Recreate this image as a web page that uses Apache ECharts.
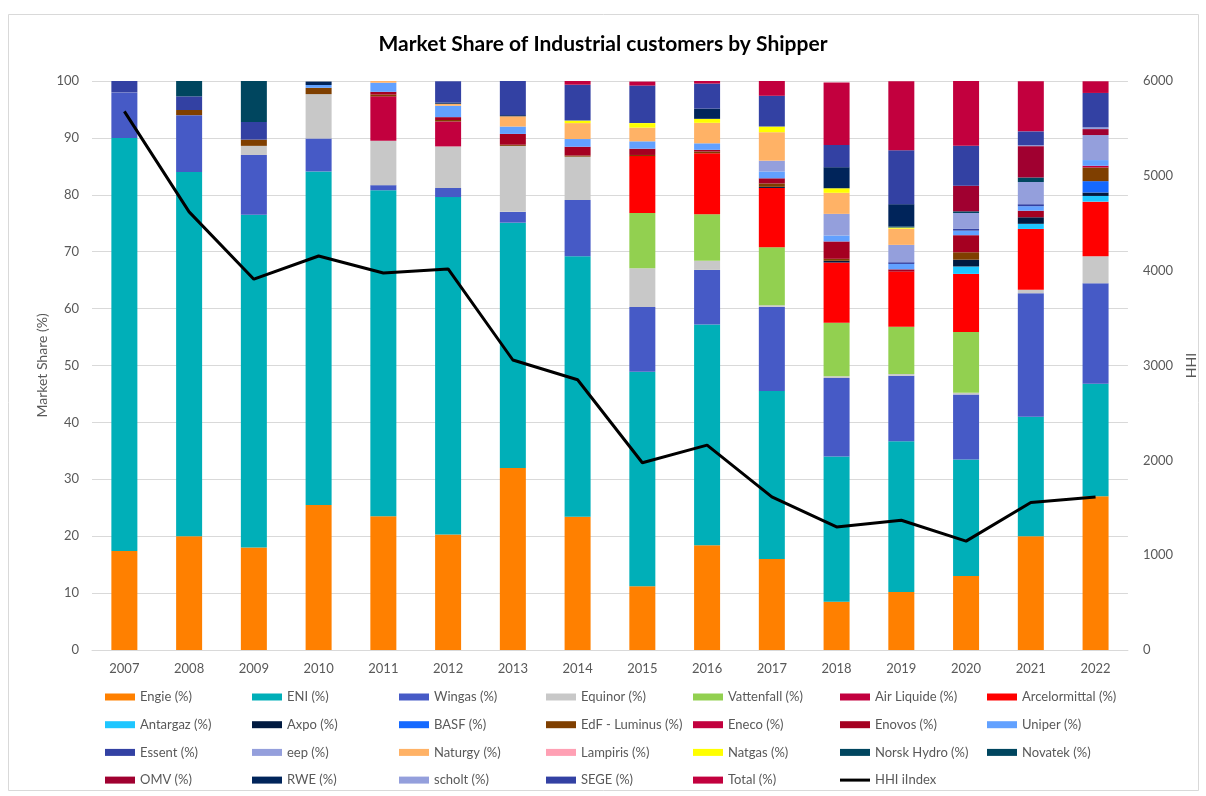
<!DOCTYPE html>
<html>
<head>
<meta charset="utf-8">
<script src="https://cdn.jsdelivr.net/npm/echarts@6/dist/echarts.min.js"></script>
<style>
  html, body { margin: 0; padding: 0; background: #fff; }
  #chart { width: 1206px; height: 796px; }
</style>
</head>
<body>
<div id="chart"></div>
<script>
// years on the x axis
const years = ["2007", "2008", "2009", "2010", "2011", "2012", "2013", "2014",
  "2015", "2016", "2017", "2018", "2019", "2020", "2021", "2022"];

// market share per shipper (%)
const engie        = [17.4, 20, 18, 25.5, 23.5, 20.3, 32, 23.4, 11.2, 18.4, 16, 8.5, 10.2, 13, 20, 27];
const eni          = [72.6, 64, 58.5, 58.6, 57.3, 59.3, 43.1, 45.8, 37.7, 38.8, 29.5, 25.5, 26.5, 20.5, 21, 19.8];
const wingas       = [8, 10, 10.5, 5.8, 0.9, 1.6, 1.9, 9.9, 11.4, 9.6, 14.8, 13.8, 11.5, 11.4, 21.7, 17.65];
const equinor      = [0, 0, 1.6, 7.8, 7.8, 7.3, 11.6, 7.6, 6.8, 1.6, 0.3, 0.3, 0.3, 0.3, 0.6, 4.75];
const vattenfall   = [0, 0, 0, 0, 0, 0, 0, 0, 9.7, 8.2, 10.2, 9.4, 8.3, 10.7, 0, 0];
const airLiquide   = [0, 0, 0, 0, 7.8, 4.4, 0, 0, 0, 0, 0, 0, 0, 0, 0, 0];
const arcelor      = [0, 0, 0, 0, 0, 0, 0, 0, 10, 10.7, 10.4, 10.6, 9.7, 10.2, 10.7, 9.6];
const antargaz     = [0, 0, 0, 0, 0, 0, 0, 0, 0, 0, 0, 0, 0, 1.3, 0.9, 1.0];
const axpo         = [0, 0, 0, 0, 0, 0, 0, 0, 0, 0, 0.2, 0.3, 0, 1.2, 1.15, 0.6];
const basf         = [0, 0, 0, 0, 0, 0, 0, 0, 0, 0, 0, 0, 0, 0, 0, 2.0];
const edf          = [0, 0.9, 1.1, 1.1, 0.3, 0.25, 0.2, 0.2, 0.2, 0.3, 0.6, 0.35, 0, 1.3, 0, 2.4];
const eneco        = [0, 0, 0, 0, 0, 0, 0, 0, 0, 0, 0, 0, 0, 0, 0, 0.3];
const enovos       = [0, 0, 0, 0, 0.5, 0.5, 1.9, 1.55, 1.1, 0.3, 0.9, 3.05, 0.4, 3.0, 1.15, 0];
const uniper       = [0, 0, 0, 0.5, 1.6, 2.0, 1.3, 1.35, 1.3, 1.15, 1.2, 1.05, 0.95, 0.8, 0.8, 1.0];
const essent       = [2, 2.4, 3.1, 0, 0, 0, 0, 0, 0, 0, 0, 0, 0.3, 0.3, 0.35, 0];
const eep          = [0, 0, 0, 0, 0, 0, 0, 0, 0, 0, 1.9, 3.8, 3.05, 2.8, 3.9, 4.4];
const naturgy      = [0, 0, 0, 0, 0.3, 0.35, 1.8, 2.8, 2.4, 3.6, 5.0, 3.7, 2.85, 0, 0, 0];
const lampiris     = [0, 0, 0, 0, 0, 0, 0, 0, 0, 0, 0, 0, 0, 0, 0, 0];
const natgas       = [0, 0, 0, 0, 0, 0, 0, 0.45, 0.8, 0.7, 1.0, 0.8, 0.2, 0, 0, 0];
const norskHydro   = [0, 2.7, 7.2, 0, 0, 0, 0, 0, 0, 0, 0, 0, 0, 0, 0, 0];
const novatek      = [0, 0, 0, 0, 0, 0, 0, 0, 0, 0, 0, 0, 0.2, 0.3, 0.8, 0];
const omv          = [0, 0, 0, 0, 0, 0, 0, 0, 0, 0, 0, 0, 0, 4.5, 5.5, 1.05];
const rwe          = [0, 0, 0, 0.6, 0, 0.2, 0.2, 0, 0, 1.8, 0, 3.7, 3.9, 0, 0, 0];
const scholt       = [0, 0, 0, 0, 0, 0, 0, 0, 0, 0, 0, 0, 0, 0, 0.15, 0.3];
const sege         = [0, 0, 0, 0, 0, 3.75, 6.0, 6.3, 6.6, 4.4, 5.4, 3.9, 9.5, 7.0, 2.45, 6.05];
const total        = [0, 0, 0, 0, 0, 0, 0, 0.7, 0.7, 0.45, 2.6, 11.0, 12.1, 11.4, 8.8, 2.05];

// HHI index (right axis)
const hhi = [5680, 4620, 3910, 4155, 3975, 4018, 3058, 2850, 1975, 2160, 1614, 1298, 1368, 1148, 1556, 1614];

const names = ["Engie (%)", "ENI (%)", "Wingas (%)", "Equinor (%)", "Vattenfall (%)", "Air Liquide (%)",
  "Arcelormittal (%)", "Antargaz (%)", "Axpo (%)", "BASF (%)", "EdF - Luminus (%)", "Eneco (%)",
  "Enovos (%)", "Uniper (%)", "Essent (%)", "eep (%)", "Naturgy (%)", "Lampiris (%)", "Natgas (%)",
  "Norsk Hydro (%)", "Novatek (%)", "OMV (%)", "RWE (%)", "scholt (%)", "SEGE (%)", "Total (%)"];
const shares = [engie, eni, wingas, equinor, vattenfall, airLiquide, arcelor, antargaz, axpo, basf,
  edf, eneco, enovos, uniper, essent, eep, naturgy, lampiris, natgas, norskHydro, novatek, omv,
  rwe, scholt, sege, total];
const hhiName = "HHI iIndex";

const colors = ["#FF8000", "#00AFB8", "#465AC6", "#C8C8C8", "#92D050", "#C2003E",
  "#FF0000", "#1EC6FF", "#001A40", "#1569FF", "#7F3F00", "#C2003E",
  "#A50021", "#62A1FF", "#3341A3", "#949FDC", "#FFB266", "#FFA0B4", "#FFFF00",
  "#00465F", "#00465F", "#A00030", "#00245A", "#949FDC", "#3341A3", "#C2003E"];

const font = "Lato, 'Liberation Sans', sans-serif";
const grey = "#595959";

const series = names.map((n, i) => ({
  name: n,
  type: "bar",
  stack: "share",
  barWidth: 26,
  itemStyle: { color: colors[i] },
  data: shares[i].map(v => (v === 0 ? "-" : v)),
}));
series.push({
  name: hhiName,
  type: "line",
  yAxisIndex: 1,
  symbol: "none",
  z: 10,
  lineStyle: { color: "#000", width: 3 },
  itemStyle: { color: "#000" },
  data: hhi,
});

// legend: 7 columns x 4 rows, in the same order as the stack
const legendItems = names.map(n => ({ name: n, icon: "rect" }))
  .concat([{ name: hhiName, icon: "path://M0,0H30V3H0Z" }]);
const colX = [105, 252, 399, 546, 693, 840, 987];
const legends = colX.map((x, c) => ({
  orient: "vertical",
  left: x,
  top: 689,
  padding: 0,
  itemWidth: 30,
  itemHeight: 7,
  itemGap: 11.7,
  selectedMode: false,
  textStyle: { color: grey, fontSize: 13, fontFamily: font, lineHeight: 16 },
  data: legendItems.filter((_, k) => k % 7 === c),
}));

const chart = echarts.init(document.getElementById("chart"));
chart.setOption({
  animation: false,
  backgroundColor: "#fff",
  graphic: [{
    type: "rect",
    shape: { x: 8.5, y: 14.5, width: 1190, height: 776 },
    style: { fill: "none", stroke: "#D9D9D9", lineWidth: 1 },
    silent: true,
  }],
  title: {
    text: "Market Share of Industrial customers by Shipper",
    left: "center",
    top: 29,
    textStyle: { color: "#000", fontSize: 21, fontWeight: "bold", fontFamily: font },
  },
  grid: { left: 92, right: 77, top: 81, bottom: 146 },
  legend: legends,
  xAxis: {
    type: "category",
    data: years,
    axisLine: { lineStyle: { color: "#D9D9D9" } },
    axisTick: { show: false },
    axisLabel: { color: grey, fontSize: 13, fontFamily: font, margin: 12 },
  },
  yAxis: [{
    type: "value",
    min: 0,
    max: 100,
    interval: 10,
    name: "Market Share (%)",
    nameLocation: "middle",
    nameGap: 43,
    nameMoveOverlap: false,
    nameTextStyle: { color: grey, fontSize: 14, fontFamily: font },
    axisLine: { show: false },
    axisTick: { show: false },
    axisLabel: { color: grey, fontSize: 13, fontFamily: font, margin: 13 },
    splitLine: { lineStyle: { color: "#D9D9D9" } },
  }, {
    type: "value",
    min: 0,
    max: 6000,
    interval: 1000,
    name: "HHI",
    nameLocation: "middle",
    nameGap: 54,
    nameRotate: 90,
    nameTextStyle: { color: grey, fontSize: 14, fontFamily: font },
    axisLine: { show: false },
    axisTick: { show: false },
    axisLabel: { color: grey, fontSize: 13, fontFamily: font, margin: 15, formatter: v => String(v) },
    splitLine: { show: false },
  }],
  series: series,
});
</script>
</body>
</html>
